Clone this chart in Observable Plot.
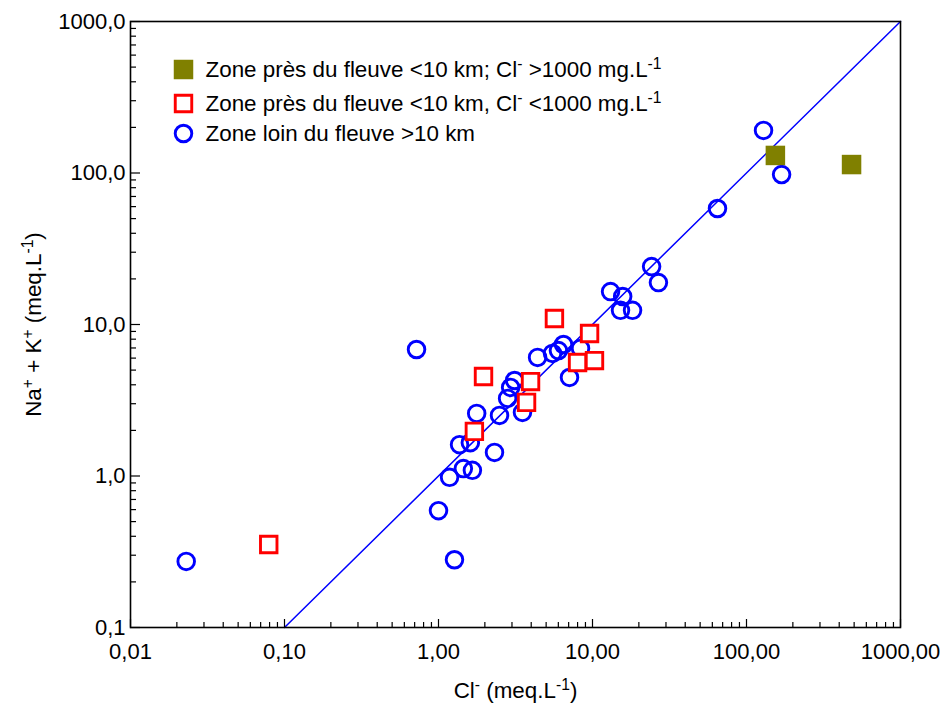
<!DOCTYPE html>
<html>
<head>
<meta charset="utf-8">
<script src="https://cdn.jsdelivr.net/npm/d3@7"></script>
<script src="https://cdn.jsdelivr.net/npm/@observablehq/plot@0.6"></script>
<style>
  body { margin: 0; background: #fff; }
  #chart svg { display: block; }
</style>
</head>
<body>
<div id="chart"></div>
<script>
// Zone loin du fleuve >10 km (blue open circles)
const farCl  = [0.023, 0.72, 1.00, 1.27, 1.18, 1.45, 1.66, 1.37, 1.61, 2.31, 1.77, 2.49, 2.81, 2.94, 3.12, 3.51, 4.40, 5.50, 6.01, 6.48, 8.36, 7.09, 13.1, 15.7, 15.2, 18.2, 24.2, 26.8, 64.8, 129, 169];
const farNaK = [0.273, 6.84, 0.59, 0.28, 0.98, 1.12, 1.09, 1.61, 1.66, 1.43, 2.59, 2.51, 3.25, 3.84, 4.27, 2.63, 6.06, 6.44, 6.73, 7.38, 6.95, 4.47, 16.5, 15.3, 12.4, 12.4, 24.1, 18.9, 58.3, 191, 97.7];

// Zone près du fleuve <10 km, Cl- <1000 mg/L (red open squares)
const nearLowCl  = [0.079, 1.71, 1.96, 3.73, 3.96, 5.66, 9.57, 8.0, 10.3];
const nearLowNaK = [0.353, 1.97, 4.54, 3.06, 4.20, 10.96, 8.73, 5.61, 5.78];

// Zone près du fleuve <10 km; Cl- >1000 mg/L (olive filled squares)
const nearHighCl  = [154, 481];
const nearHighNaK = [130.6, 113.7];

// 1:1 reference line
const refLineCl  = [0.1, 1000];
const refLineNaK = [0.1, 1000];

const xTicks = [0.01, 0.1, 1, 10, 100, 1000];
const xTickLabels = ["0,01", "0,10", "1,00", "10,00", "100,00", "1000,00"];
const yTicks = [0.1, 1, 10, 100, 1000];
const yTickLabels = ["0,1", "1,0", "10,0", "100,0", "1000,0"];

const legendLabels = [
  "Zone près du fleuve <10 km; Cl^{-} >1000 mg.L^{-1}",
  "Zone près du fleuve <10 km, Cl^{-} <1000 mg.L^{-1}",
  "Zone loin du fleuve >10 km"
];
const xTitle = "Cl^{-} (meq.L^{-1})";
const yTitle = "Na^{+} + K^{+} (meq.L^{-1})";

const BLUE = "#0000ff", RED = "#ff0000", OLIVE = "#808000";

const far = farCl.map((x, i) => ({x, y: farNaK[i]}));
const nearLow = nearLowCl.map((x, i) => ({x, y: nearLowNaK[i]}));
const nearHigh = nearHighCl.map((x, i) => ({x, y: nearHighNaK[i]}));
const refLine = refLineCl.map((x, i) => ({x, y: refLineNaK[i]}));

const minor = (lo, hi) => {
  const out = [];
  for (let e = lo; e < hi; e++) for (let k = 2; k <= 9; k++) out.push(k * Math.pow(10, e));
  return out;
};
const xMinor = minor(-2, 3);
const yMinor = minor(-1, 3);

const W = 943, H = 706, mL = 130, mR = 43, mT = 21, mB = 79;
const plotW = W - mL - mR, plotH = H - mT - mB;
const FS = 22, LFS = 22.4;

const chart = Plot.plot({
  width: W,
  height: H,
  marginLeft: mL, marginRight: mR, marginTop: mT, marginBottom: mB,
  style: {fontFamily: "'Liberation Sans', Arial, sans-serif", fontSize: FS + "px", color: "#000", background: "#fff"},
  x: {type: "log", domain: [0.01, 1000]},
  y: {type: "log", domain: [0.1, 1000]},
  marks: [
    Plot.line(refLine, {x: "x", y: "y", stroke: BLUE, strokeWidth: 1.5}),
    Plot.dot(far, {x: "x", y: "y", r: 8.3, stroke: BLUE, strokeWidth: 2.9, fill: "none"}),
    Plot.dot(nearLow, {x: "x", y: "y", symbol: "square", r: 9.3, stroke: RED, strokeWidth: 2.9, fill: "white"}),
    Plot.dot(nearHigh, {x: "x", y: "y", symbol: "square", r: 11, fill: OLIVE}),
    // inward ticks
    Plot.ruleX(xMinor, {x: d => d, insetTop: plotH - 5, stroke: "#000", strokeWidth: 1.2}),
    Plot.ruleX(xTicks, {x: d => d, insetTop: plotH - 8, stroke: "#000", strokeWidth: 1.2}),
    Plot.ruleY(yMinor, {y: d => d, insetRight: plotW - 6, stroke: "#000", strokeWidth: 1.2}),
    Plot.ruleY(yTicks, {y: d => d, insetRight: plotW - 10, stroke: "#000", strokeWidth: 1.2}),
    Plot.frame({stroke: "#000", strokeWidth: 1.6}),
    Plot.axisX(xTicks, {tickSize: 0, tickPadding: 16, tickFormat: d => xTickLabels[xTicks.indexOf(d)], label: null, fontSize: FS}),
    Plot.axisY(yTicks, {tickSize: 0, tickPadding: 5, tickFormat: d => yTickLabels[yTicks.indexOf(d)], label: null, fontSize: FS}),
    // axis titles
    Plot.text([xTitle], {frameAnchor: "bottom", dy: 63, textAnchor: "middle", lineAnchor: "middle", fontSize: LFS, fill: "#000"}),
    Plot.text([yTitle], {frameAnchor: "left", dx: -97, rotate: -90, textAnchor: "middle", lineAnchor: "middle", fontSize: LFS, fill: "#000"}),
    // legend
    Plot.dot([0], {frameAnchor: "top-left", dx: 53, dy: 48, symbol: "square", r: 11, fill: OLIVE}),
    Plot.dot([0], {frameAnchor: "top-left", dx: 53, dy: 82, symbol: "square", r: 9.3, stroke: RED, strokeWidth: 2.9, fill: "white"}),
    Plot.dot([0], {frameAnchor: "top-left", dx: 53, dy: 112, r: 8.3, stroke: BLUE, strokeWidth: 2.9, fill: "none"}),
    Plot.text([legendLabels[0]], {frameAnchor: "top-left", dx: 75, dy: 48, textAnchor: "start", lineAnchor: "middle", fontSize: LFS, fill: "#000"}),
    Plot.text([legendLabels[1]], {frameAnchor: "top-left", dx: 75, dy: 82, textAnchor: "start", lineAnchor: "middle", fontSize: LFS, fill: "#000"}),
    Plot.text([legendLabels[2]], {frameAnchor: "top-left", dx: 75, dy: 112, textAnchor: "start", lineAnchor: "middle", fontSize: LFS, fill: "#000"})
  ]
});

// convert ^{...} markup into superscript tspans
chart.querySelectorAll("text").forEach(t => {
  const s = t.textContent;
  if (!s.includes("^{")) return;
  while (t.firstChild) t.removeChild(t.firstChild);
  const re = /\^\{([^}]*)\}/g;
  let last = 0, m;
  const ns = "http://www.w3.org/2000/svg";
  while ((m = re.exec(s)) !== null) {
    if (m.index > last) {
      const n = document.createElementNS(ns, "tspan");
      n.textContent = s.slice(last, m.index);
      t.appendChild(n);
    }
    const sup = document.createElementNS(ns, "tspan");
    sup.textContent = m[1];
    sup.setAttribute("baseline-shift", "super");
    sup.setAttribute("font-size", "0.7em");
    t.appendChild(sup);
    last = re.lastIndex;
  }
  if (last < s.length) {
    const n = document.createElementNS(ns, "tspan");
    n.textContent = s.slice(last);
    t.appendChild(n);
  }
});

document.getElementById("chart").appendChild(chart);
</script>
</body>
</html>
